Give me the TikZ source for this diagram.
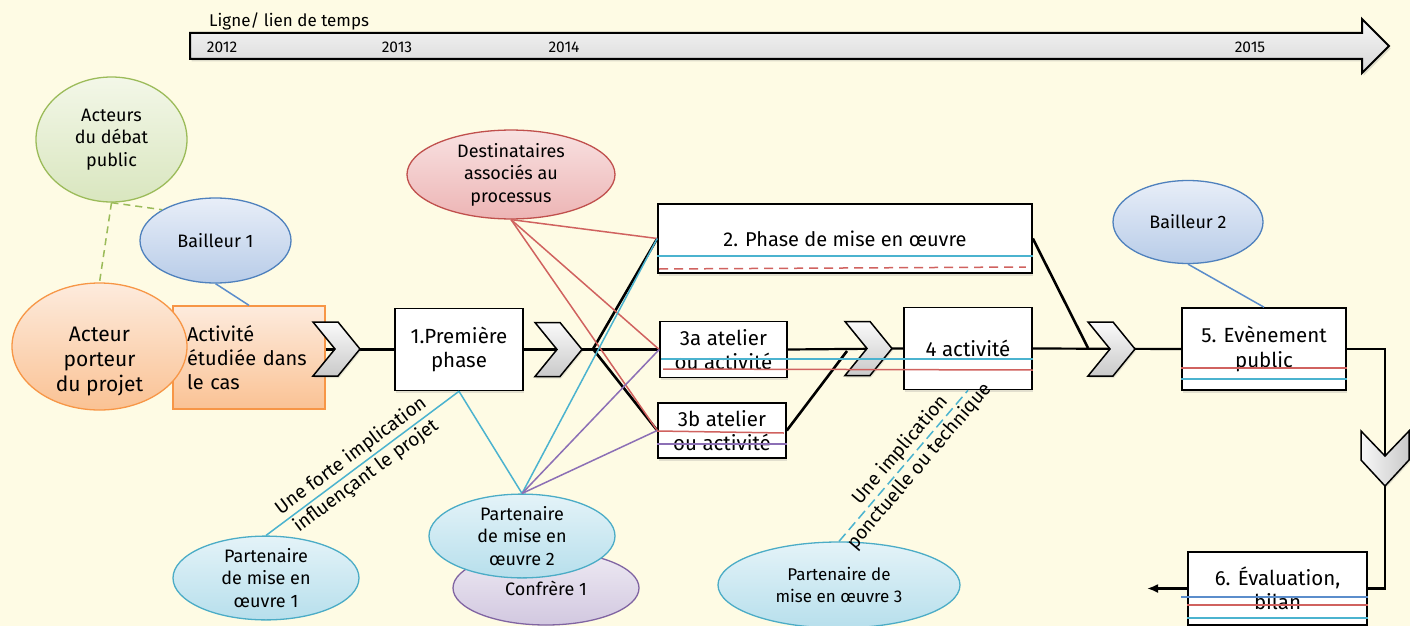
\documentclass[tikz,border=0pt]{standalone}
\usepackage{fontspec}
\setmainfont{Fira Sans}
\usetikzlibrary{shapes.geometric,shadows,arrows.meta}
\definecolor{bg}{HTML}{FEFBE4}
\definecolor{orC}{HTML}{F79646}
\definecolor{orT}{HTML}{FDEBDD}
\definecolor{orB}{HTML}{FAC294}
\definecolor{grC}{HTML}{9BBB59}
\definecolor{grT}{HTML}{F3F7E8}
\definecolor{grB}{HTML}{D9E6BF}
\definecolor{blC}{HTML}{4F81BD}
\definecolor{blT}{HTML}{E8EEF8}
\definecolor{blB}{HTML}{B8CCE8}
\definecolor{rdC}{HTML}{C0504D}
\definecolor{rdT}{HTML}{F8E1E1}
\definecolor{rdB}{HTML}{EDB5B5}
\definecolor{cyC}{HTML}{4BACC6}
\definecolor{cyT}{HTML}{E4F3F8}
\definecolor{cyB}{HTML}{B7DFEC}
\definecolor{puC}{HTML}{8064A2}
\definecolor{puT}{HTML}{EEEAF3}
\definecolor{puB}{HTML}{D2C8E0}
\definecolor{lnR}{HTML}{D0625F}
\definecolor{lnC}{HTML}{4BB3CF}
\definecolor{lnP}{HTML}{8C6FB5}
\definecolor{lnB}{HTML}{5B8DCB}
\begin{document}
\begin{tikzpicture}[x=1pt,y=-1pt,
  wbox/.style={draw=black, line width=1.6pt, fill=white, inner sep=2pt, align=center,
    font=\fontsize{20.5}{24.5}\selectfont,
    drop shadow={shadow xshift=0.5pt, shadow yshift=-2.5pt, opacity=0.22}},
  ell/.style={ellipse, inner sep=0pt, align=center, line width=1.3pt,
    font=\fontsize{18}{22.5}\selectfont},
  orng/.style={draw=orC, top color=orT, bottom color=orB},
  grn/.style={draw=grC, top color=grT, bottom color=grB},
  blu/.style={draw=blC, top color=blT, bottom color=blB},
  rdd/.style={draw=rdC, top color=rdT, bottom color=rdB},
  cyy/.style={draw=cyC, top color=cyT, bottom color=cyB},
  pur/.style={draw=puC, top color=puT, bottom color=puB},
  mainln/.style={draw=black, line width=2.2pt},
  brln/.style={draw=black, line width=2.6pt},
  lr/.style={draw=lnR, line width=1.5pt},
  lc/.style={draw=lnC, line width=1.5pt},
  lp/.style={draw=lnP, line width=1.5pt},
  lb/.style={draw=lnB, line width=1.5pt},
  lg/.style={draw=grC, line width=1.5pt, dash pattern=on 7pt off 5pt},
  yr/.style={font=\fontsize{15.5}{17}\selectfont, inner sep=0pt},
  chevst/.style={draw=black, line width=1.5pt, top color=gray!4, bottom color=gray!42,
    drop shadow={shadow xshift=1pt, shadow yshift=-2pt, opacity=0.2}},
  chevdst/.style={draw=black, line width=1.5pt, left color=gray!6, right color=gray!42,
    drop shadow={shadow xshift=1pt, shadow yshift=-2pt, opacity=0.2}},
  chevR/.pic={\path[chevst] (-47,-27) -- (-22,-27) -- (0,0) -- (-22,27) -- (-47,27) -- (-25,0) -- cycle;},
  chevD/.pic={\path[chevdst] (-24,-55) -- (0,-30) -- (24,-55) -- (24,-26) -- (0,0) -- (-24,-26) -- cycle;},
  rot/.style={sloped, align=center, font=\fontsize{19}{25}\selectfont, inner sep=1pt}
]
\fill[bg] (0,0) rectangle (1410,626);
\useasboundingbox (0,0) rectangle (1410,626);

% timeline
\path[draw=black, line width=2pt, top color=gray!6, bottom color=gray!32,
  drop shadow={shadow xshift=1.5pt, shadow yshift=-2.5pt, opacity=0.25}]
  (190,33) -- (1362,33) -- (1362,19) -- (1389,46) -- (1362,73) -- (1362,59) -- (190,59) -- cycle;
\node[font=\fontsize{17}{19}\selectfont, anchor=base west, inner sep=0pt] (tlt) at (209,27) {Ligne/ lien de temps};
\node[yr] (y12) at (222,47) {2012};
\node[yr] (y13) at (397,47) {2013};
\node[yr] (y14) at (564,47) {2014};
\node[yr] (y15) at (1250,47) {2015};

% left cluster
\node[orng, line width=1.3pt, minimum width=152pt, minimum height=103pt, text width=124pt,
  inner xsep=14pt, inner ysep=0pt, align=left, font=\fontsize{20}{24}\selectfont] (act) at (249,357.5)
  {Activité\\étudiée dans\\le cas};
\node[ell, orng, minimum width=175pt, minimum height=127pt] (a1) at (99.5,346.5) {};
\node[align=center, font=\fontsize{21}{25}\selectfont, inner sep=0pt] (a1t) at (99.5,361) {Acteur\\porteur\\du projet};
\node[ell, grn, minimum width=151pt, minimum height=125pt] (deb) at (111.5,139.5) {Acteurs\\du débat\\public};
\node[ell, blu, minimum width=151pt, minimum height=85pt] (b1) at (215.5,240.5) {Bailleur 1};
\node[ell, rdd, minimum width=208pt, minimum height=77pt] (dest) at (511,174.5) {Destinataires\\associés au\\processus};

% boxes
\node[wbox, minimum width=128pt, minimum height=82pt] (p1box) at (459,349.5) {1.Première\\phase};
\node[wbox, minimum width=374pt, minimum height=69pt, font=\fontsize{20}{24}\selectfont] (box2) at (845,238.5) {2. Phase de mise en œuvre};
\node[wbox, minimum width=127pt, minimum height=56pt] (a3) at (723.5,349.5) {3a atelier\\ou activité};
\node[wbox, minimum width=128pt, minimum height=55pt] (b3) at (722,430.5) {3b atelier\\ou activité};
\node[wbox, minimum width=128pt, minimum height=82pt] (box4) at (968,348.5) {4 activité};
\node[wbox, minimum width=164pt, minimum height=82pt] (box5) at (1264,349) {5. Evènement\\public};
\node[wbox, minimum width=179pt, minimum height=73pt] (box6) at (1277.5,588.5) {6. Évaluation,\\bilan};
\node[ell, blu, minimum width=150pt, minimum height=83pt] (b2) at (1188,222) {Bailleur 2};

% bottom ellipses
\node[ell, pur, minimum width=186pt, minimum height=74pt] (conf) at (546,588) {Confrère 1};
\node[ell, cyy, minimum width=186pt, minimum height=78pt] (pm2) at (522,536) {Partenaire\\de mise en\\œuvre 2};
\node[ell, cyy, minimum width=186pt, minimum height=78pt] (pm1) at (266,578) {Partenaire\\de mise en\\œuvre 1};
\node[ell, cyy, minimum width=242pt, minimum height=86pt, font=\fontsize{17}{22}\selectfont] (pm3) at (839,585) {Partenaire de\\mise en œuvre 3};

% coordinates
\coordinate (split) at (593,349);
\coordinate (m3) at (847,351);
\coordinate (m4) at (1088,348);
\coordinate (turn2) at (1385,588.5);
\coordinate (endarr) at (1147,588.5);

% black flow
\draw[mainln] (act.east |- p1box.west) -- (p1box.west);
\draw[mainln] (p1box.east) -- (a3.west);
\draw[mainln] (a3.east) -- (box4.west);
\draw[mainln] (box4.east) -- (box5.west);
\draw[mainln] (box5.east) -| (turn2) -- (box6.east);
\draw[mainln, -{Latex[length=11pt,width=9pt]}] (box6.west) -- (endarr);
\draw[brln] (split) -- (box2.west);
\draw[brln] (split) -- (b3.west);
\draw[brln] (b3.east) -- (m3);
\draw[brln] (box2.east) -- (m4);

% chevrons
\pic at (360,349) {chevR};
\pic at (582,349.5) {chevR};
\pic at (892,348.5) {chevR};
\pic at (1135,349) {chevR};
\pic at (1385,486) {chevD};

% coloured connectors
\draw[lg] (deb.south) -- (a1.north);
\draw[lg] (deb.south) -- (b1.150);
\draw[lb] (b1.south) -- (act.north);
\draw[lb] (b2.south) -- (box5.north);
\draw[lr] (dest.south) -- (box2.west);
\draw[lr] (dest.south) -- (a3.west);
\draw[lr] (dest.south) -- (b3.west);
\draw[lc] (p1box.south) -- (pm2.north);
\draw[lc] (pm2.north) -- (box2.west);
\draw[lp] (pm2.north) -- (a3.west);
\draw[lp] (pm2.north) -- (b3.west);
\draw[lc] (p1box.south) -- (pm1.north)
  node[rot, pos=0.52] {Une forte implication\\influençant le projet};
\draw[lc, dash pattern=on 10pt off 5pt] (pm3.north) -- (box4.south)
  node[rot, pos=0.55] {Une implication\\ponctuelle ou technique};

% lines across boxes
\draw[lc] ([yshift=-17.5pt]box2.west) -- ([yshift=-17.5pt]box2.east);
\draw[lr, dash pattern=on 9pt off 6pt] ([xshift=2pt,yshift=-30.5pt]box2.west) -- ([xshift=-7pt,yshift=-28.5pt]box2.east);
\coordinate (ca) at ([xshift=2pt,yshift=-9.5pt]a3.west);
\draw[lc] (ca) -- (ca -| box4.east);
\draw[lr] ([xshift=4pt,yshift=-19.5pt]a3.west) -- ([yshift=-21.5pt]box4.east);
\draw[lr] ([yshift=-0.5pt]b3.west) -- ([xshift=-3pt,yshift=-2.5pt]b3.east);
\draw[lp] ([yshift=-13.5pt]b3.west) -- ([yshift=-13.5pt]b3.east);
\draw[lr] ([yshift=-19pt]box5.west) -- ([yshift=-19pt]box5.east);
\draw[lc] ([yshift=-30pt]box5.west) -- ([yshift=-30pt]box5.east);
\draw[lb] ([xshift=-6pt,yshift=-8.5pt]box6.west) -- ([yshift=-8.5pt]box6.east);
\draw[lr] ([yshift=-16.5pt]box6.west) -- ([yshift=-16.5pt]box6.east);
\draw[lc] ([yshift=-29.5pt]box6.west) -- ([yshift=-29.5pt]box6.east);
\end{tikzpicture}
\end{document}
